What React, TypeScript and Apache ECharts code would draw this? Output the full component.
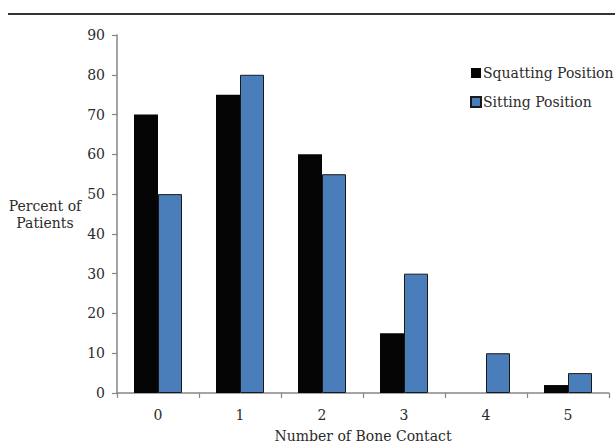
import React, { useEffect, useRef } from "react";
import * as echarts from "echarts";

const categories = ["0", "1", "2", "3", "4", "5"];
const squatting = [70, 75, 60, 15, 0, 2];
const sitting = [50, 80, 55, 30, 10, 5];
const yTicks = { min: 0, max: 90, interval: 10 };

const FONT = "DejaVu Serif";
const TEXT = "#2b2b2b";
const AXIS = "#878787";

export default function App() {
  const ref = useRef<HTMLDivElement>(null);
  useEffect(() => {
    if (!ref.current) return;
    const chart = echarts.init(ref.current, undefined, { renderer: "svg", width: 615, height: 444 });
    chart.setOption({
      animation: false,
      backgroundColor: "#ffffff",
      textStyle: { fontFamily: FONT, color: TEXT },
      grid: { left: 117, right: 6, top: 35, bottom: 51, containLabel: false, outerBoundsMode: "none" },
      legend: {
        orient: "vertical",
        left: 465,
        top: 61,
        itemWidth: 10,
        itemHeight: 10,
        itemGap: 15,
        icon: "rect",
        textStyle: { fontFamily: FONT, fontSize: 14, color: TEXT, padding: [0, 0, 0, -3] },
        data: ["Squatting Position", "Sitting Position"],
      },
      graphic: [
        {
          type: "line",
          shape: { x1: 8, y1: 14, x2: 615, y2: 14 },
          style: { stroke: "#333333", lineWidth: 2 },
          silent: true,
        },
        {
          type: "text",
          x: 45,
          y: 214,
          style: {
            text: "Percent of\nPatients",
            fontFamily: FONT,
            fontSize: 14,
            fill: TEXT,
            align: "center",
            verticalAlign: "middle",
            lineHeight: 17,
          },
        },
      ],
      xAxis: {
        type: "category",
        data: categories,
        name: "Number of Bone Contact",
        nameLocation: "middle",
        nameGap: 36,
        nameTextStyle: { fontFamily: FONT, fontSize: 14, color: TEXT },
        axisLine: { lineStyle: { color: AXIS, width: 1.5 } },
        axisTick: { show: true, length: 5, lineStyle: { color: AXIS, width: 1.2 } },
        axisLabel: { fontFamily: FONT, fontSize: 14, color: TEXT, margin: 15 },
      },
      yAxis: {
        type: "value",
        min: yTicks.min,
        max: yTicks.max,
        interval: yTicks.interval,
        splitLine: { show: false },
        axisLine: { show: true, lineStyle: { color: AXIS, width: 1.5 } },
        axisTick: { show: true, length: 5, lineStyle: { color: AXIS, width: 1.2 } },
        axisLabel: { fontFamily: FONT, fontSize: 14, color: TEXT, margin: 12 },
      },
      series: [
        {
          name: "Squatting Position",
          type: "bar",
          data: squatting,
          barWidth: 24,
          barGap: "0%",
          itemStyle: { color: "#050505", borderWidth: 0 },
        },
        {
          name: "Sitting Position",
          type: "bar",
          data: sitting,
          barWidth: 24,
          barGap: "0%",
          itemStyle: { color: "#4a7ebb", borderColor: "#1a1a1a", borderWidth: 1 },
        },
      ],
    });
    return () => chart.dispose();
  }, []);
  return <div ref={ref} style={{ width: 615, height: 444, position: "absolute", left: 0, top: 0 }} />;
}
